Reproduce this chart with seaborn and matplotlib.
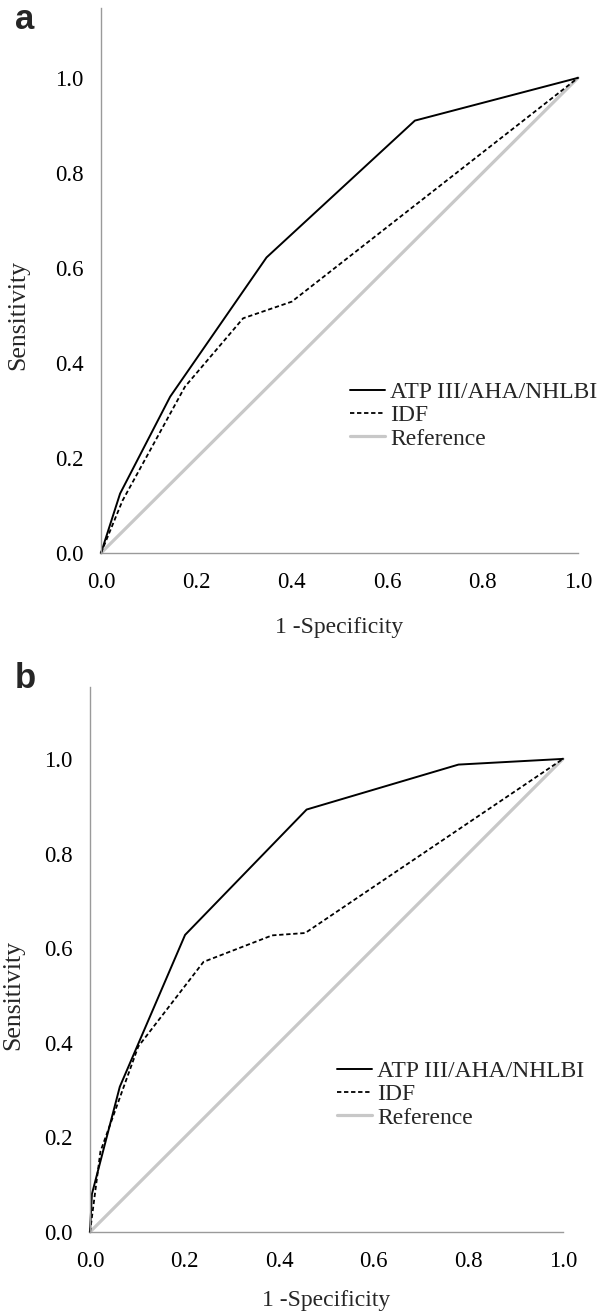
import matplotlib
matplotlib.use("Agg")
import matplotlib.pyplot as plt
import pandas as pd
import seaborn as sns

# ROC curves (1 - specificity, sensitivity)
A_ATP_X = [0.0, 0.04, 0.145, 0.347, 0.658, 1.0]
A_ATP_Y = [0.0, 0.125, 0.329, 0.622, 0.910, 1.0]
A_IDF_X = [0.0, 0.045, 0.176, 0.298, 0.40, 1.0]
A_IDF_Y = [0.0, 0.110, 0.350, 0.494, 0.529, 1.0]

B_ATP_X = [0.0, 0.004, 0.063, 0.201, 0.458, 0.779, 1.0]
B_ATP_Y = [0.0, 0.080, 0.307, 0.628, 0.893, 0.988, 1.0]
B_IDF_X = [0.0, 0.022, 0.102, 0.240, 0.385, 0.455, 1.0]
B_IDF_Y = [0.0, 0.170, 0.392, 0.571, 0.627, 0.632, 1.0]

REF_X = [0.0, 1.0]
REF_Y = [0.0, 1.0]

LABELS = ["ATP III/AHA/NHLBI", "IDF", "Reference"]
TICKS = [0.0, 0.2, 0.4, 0.6, 0.8, 1.0]

sns.set_style("white")
plt.rcParams['font.family'] = ['Liberation Serif', 'DejaVu Serif']
FS = 16.5

fig = plt.figure(figsize=(6.02, 13.16), dpi=100)

PANELS = [
    # letter, atp, idf, axes rect, ylim top, legend anchor, label coords, letter pos
    ("a", (A_ATP_X, A_ATP_Y), (A_IDF_X, A_IDF_Y),
     [101 / 602, 1 - 553 / 1316, 477 / 602, 545 / 1316], 1.147,
     (0.522, 0.315), (-0.150, -0.117), (15 / 602, 1 - 29 / 1316)),
    ("b", (B_ATP_X, B_ATP_Y), (B_IDF_X, B_IDF_Y),
     [90 / 602, 1 - 1232 / 1316, 473 / 602, 545 / 1316], 1.152,
     (0.522, 0.315), (-0.140, -0.106), (15 / 602, 1 - 688 / 1316)),
]

for letter, atp, idf, rect, ytop, leg_anchor, lab, letter_pos in PANELS:
    ax = fig.add_axes(rect)
    df_ref = pd.DataFrame({"x": REF_X, "y": REF_Y})
    df_atp = pd.DataFrame({"x": atp[0], "y": atp[1]})
    df_idf = pd.DataFrame({"x": idf[0], "y": idf[1]})

    sns.lineplot(data=df_ref, x="x", y="y", sort=False, ax=ax, color="#c8c8c8",
                 linewidth=2.3, label=LABELS[2], clip_on=False)
    sns.lineplot(data=df_idf, x="x", y="y", sort=False, ax=ax, color="black",
                 linewidth=1.3, dashes=(2.4, 1.5), label=LABELS[1], clip_on=False)
    sns.lineplot(data=df_atp, x="x", y="y", sort=False, ax=ax, color="black",
                 linewidth=1.4, label=LABELS[0], clip_on=False)

    ax.set_xlim(0, 1)
    ax.set_ylim(0, ytop)
    ax.set_xticks(TICKS)
    ax.set_yticks(TICKS)
    ax.set_xticklabels([f"{t:.1f}" for t in TICKS])
    ax.set_yticklabels([f"{t:.1f}" for t in TICKS])
    ax.tick_params(axis="both", direction="out", length=11.5, width=1.6,
                   color="black", labelsize=FS, labelcolor="black")
    ax.tick_params(axis="x", pad=2.5)
    ax.tick_params(axis="y", pad=1)

    for side in ["top", "right"]:
        ax.spines[side].set_visible(False)
    for side in ["left", "bottom"]:
        ax.spines[side].set_color("#9a9a9a")
        ax.spines[side].set_linewidth(1.0)

    ax.set_xlabel("1 -Specificity", fontsize=17)
    ax.set_ylabel("Sensitivity", fontsize=18.5)
    ax.xaxis.set_label_coords(0.5, lab[1])
    ax.yaxis.set_label_coords(lab[0], 0.5 / ytop)
    ax.xaxis.label.set_va("top")

    handles, labels = ax.get_legend_handles_labels()
    order = [labels.index(l) for l in LABELS]
    ax.legend([handles[i] for i in order], [labels[i] for i in order],
              loc="upper left", bbox_to_anchor=leg_anchor, frameon=False,
              fontsize=17, handlelength=1.5, handletextpad=0.2,
              labelspacing=0.08, borderpad=0, borderaxespad=0)

    fig.text(letter_pos[0], letter_pos[1], letter, fontsize=25, fontweight="bold",
             family=["Liberation Sans", "DejaVu Sans"], ha="left", va="baseline")

fig.savefig("out.png", dpi=100)
